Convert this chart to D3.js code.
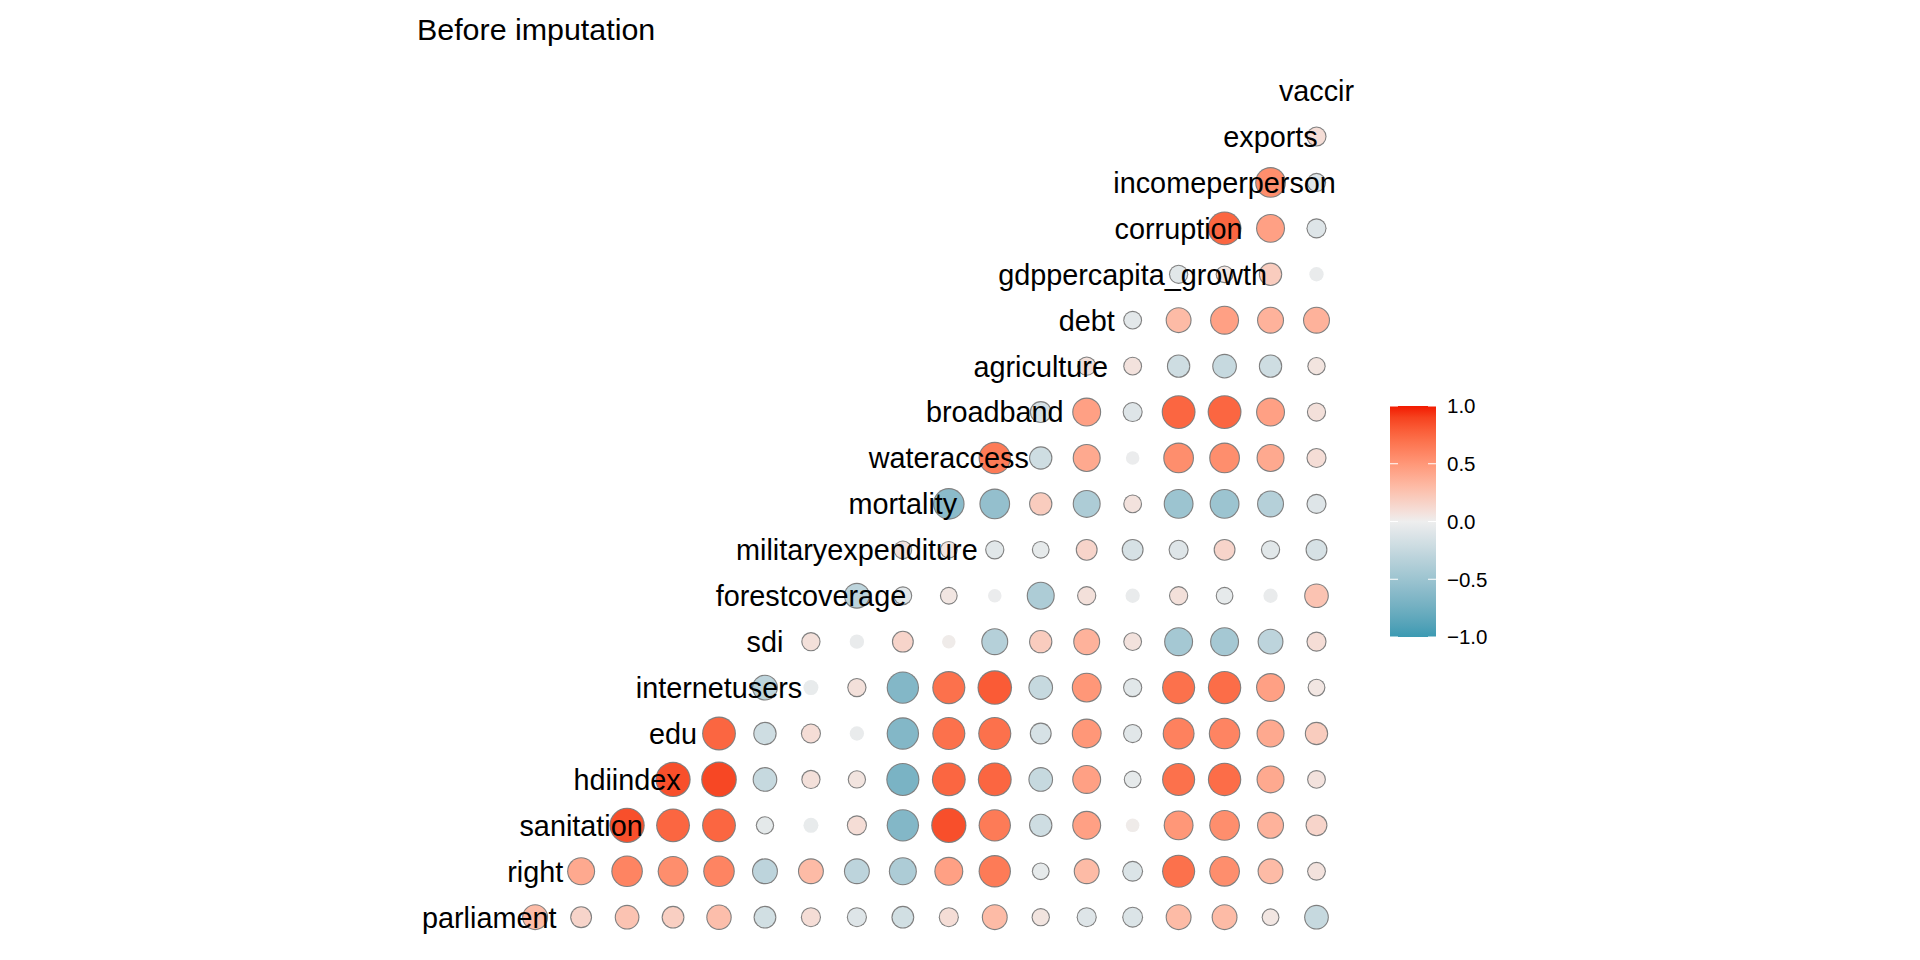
<!DOCTYPE html>
<html>
<head>
<meta charset="utf-8">
<script src="https://cdn.jsdelivr.net/npm/d3@7"></script>
<style>
  body { margin: 0; background: #fff; }
  text { font-family: "Liberation Sans", Arial, sans-serif; }
</style>
</head>
<body>
<svg id="chart" width="1920" height="960"></svg>
<script>
const variables = ["parliament", "right", "sanitation", "hdiindex", "edu", "internetusers", "sdi",
  "forestcoverage", "militaryexpenditure", "mortality", "wateraccess", "broadband", "agriculture",
  "debt", "gdppercapita_growth", "corruption", "incomeperperson", "exports", "vaccir"];

// row r holds correlations with the variables r+1 .. last
const corParliament = [0.3, 0.15, 0.25, 0.18, 0.28, -0.18, 0.1, -0.1, -0.18, 0.1, 0.3, 0.06, -0.1, -0.12, 0.3, 0.3, 0.05, -0.25];
const corRight = [0.4, 0.6, 0.55, 0.6, -0.3, 0.3, -0.3, -0.4, 0.45, 0.65, -0.05, 0.3, -0.12, 0.7, 0.55, 0.3, 0.07];
const corSanitation = [0.85, 0.75, 0.75, -0.06, -0.04, 0.1, -0.65, 0.85, 0.65, -0.2, 0.45, 0.02, 0.5, 0.55, 0.35, 0.15];
const corHdiindex = [0.85, 0.88, -0.25, 0.08, 0.06, -0.7, 0.75, 0.75, -0.25, 0.45, -0.05, 0.7, 0.72, 0.4, 0.07];
const corEdu = [0.75, -0.2, 0.1, -0.03, -0.65, 0.7, 0.7, -0.15, 0.5, -0.08, 0.62, 0.6, 0.4, 0.2];
const corInternetusers = [-0.3, -0.04, 0.08, -0.65, 0.7, 0.8, -0.25, 0.5, -0.08, 0.7, 0.72, 0.45, 0.05];
const corSdi = [0.08, -0.03, 0.15, 0.02, -0.35, 0.2, 0.35, 0.07, -0.45, -0.45, -0.3, 0.1];
const corForestcoverage = [-0.3, -0.07, 0.05, -0.02, -0.4, 0.08, -0.03, 0.08, -0.05, -0.03, 0.25];
const corMilitary = [0.07, 0.05, -0.08, -0.05, 0.15, -0.15, -0.1, 0.15, -0.08, -0.15];
const corMortality = [-0.6, -0.55, 0.2, -0.4, 0.07, -0.5, -0.5, -0.35, -0.1];
const corWateraccess = [0.65, -0.2, 0.4, -0.02, 0.55, 0.55, 0.4, 0.1];
const corBroadband = [-0.15, 0.45, -0.1, 0.75, 0.75, 0.45, 0.08];
const corAgriculture = [0.08, 0.07, -0.2, -0.25, -0.2, 0.06];
const corDebt = [-0.07, 0.3, 0.45, 0.35, 0.35];
const corGdpGrowth = [-0.08, 0.05, 0.2, -0.03];
const corCorruption = [0.75, 0.45, -0.1];
const corIncome = [0.55, -0.08];
const corExports = [0.1];

const corRows = [corParliament, corRight, corSanitation, corHdiindex, corEdu, corInternetusers, corSdi,
  corForestcoverage, corMilitary, corMortality, corWateraccess, corBroadband, corAgriculture,
  corDebt, corGdpGrowth, corCorruption, corIncome, corExports, []];

const legendTicks = [-1, -0.5, 0, 0.5, 1];

const cells = [];
corRows.forEach((row, r) => row.forEach((v, k) => cells.push({ r, c: r + 1 + k, v })));

const svg = d3.select("#chart");
const n = variables.length;

const x = d3.scaleLinear().domain([0, n - 1]).range([489.2, 1316.5]);
const y = d3.scaleLinear().domain([0, n - 1]).range([917.2, 90.6]);
const color = d3.scaleLinear().domain([-1, 0, 1])
  .range(["#3B9AB2", "#EEEEEE", "#F21A00"]).interpolate(d3.interpolateLab);
const radius = v => (10 + 25 * Math.sqrt(Math.abs(v))) / 2;

svg.append("text")
  .attr("x", 417).attr("y", 40)
  .attr("font-size", 30.4)
  .text("Before imputation");

const g = svg.append("g");

g.selectAll(".ring")
  .data(cells.filter(d => Math.abs(d.v) >= 0.05))
  .join("circle")
  .attr("class", "ring")
  .attr("cx", d => x(d.c)).attr("cy", d => y(d.r))
  .attr("r", d => radius(d.v) + 1.1)
  .attr("fill", "#7f7f7f");

g.selectAll(".dot")
  .data(cells)
  .join("circle")
  .attr("class", "dot")
  .attr("cx", d => x(d.c)).attr("cy", d => y(d.r))
  .attr("r", d => radius(d.v))
  .attr("fill", d => color(d.v));

g.selectAll(".diag")
  .data(variables)
  .join("text")
  .attr("class", "diag")
  .attr("x", (d, i) => x(i)).attr("y", (d, i) => y(i))
  .attr("dy", "0.36em")
  .attr("text-anchor", "middle")
  .attr("font-size", 28.8)
  .text(d => d);

// legend
const ly = d3.scaleLinear().domain([-1, 1]).range([637, 406]);
const defs = svg.append("defs");
const grad = defs.append("linearGradient").attr("id", "lg")
  .attr("x1", 0).attr("y1", 1).attr("x2", 0).attr("y2", 0);
d3.range(0, 1.0001, 0.05).forEach(t => {
  grad.append("stop").attr("offset", t).attr("stop-color", color(-1 + 2 * t));
});
const leg = svg.append("g");
leg.append("rect")
  .attr("x", 1390).attr("y", ly(1))
  .attr("width", 46).attr("height", ly(-1) - ly(1))
  .attr("fill", "url(#lg)");
leg.selectAll(".tk")
  .data(legendTicks)
  .join("g")
  .each(function (t) {
    const s = d3.select(this);
    s.append("line").attr("x1", 1390).attr("x2", 1398).attr("y1", ly(t)).attr("y2", ly(t))
      .attr("stroke", "#fff").attr("stroke-width", 1);
    s.append("line").attr("x1", 1428).attr("x2", 1436).attr("y1", ly(t)).attr("y2", ly(t))
      .attr("stroke", "#fff").attr("stroke-width", 1);
    s.append("text").attr("x", 1447).attr("y", ly(t)).attr("dy", "0.36em")
      .attr("font-size", 20.5).text(d3.format(".1f")(t));
  });
</script>
</body>
</html>
